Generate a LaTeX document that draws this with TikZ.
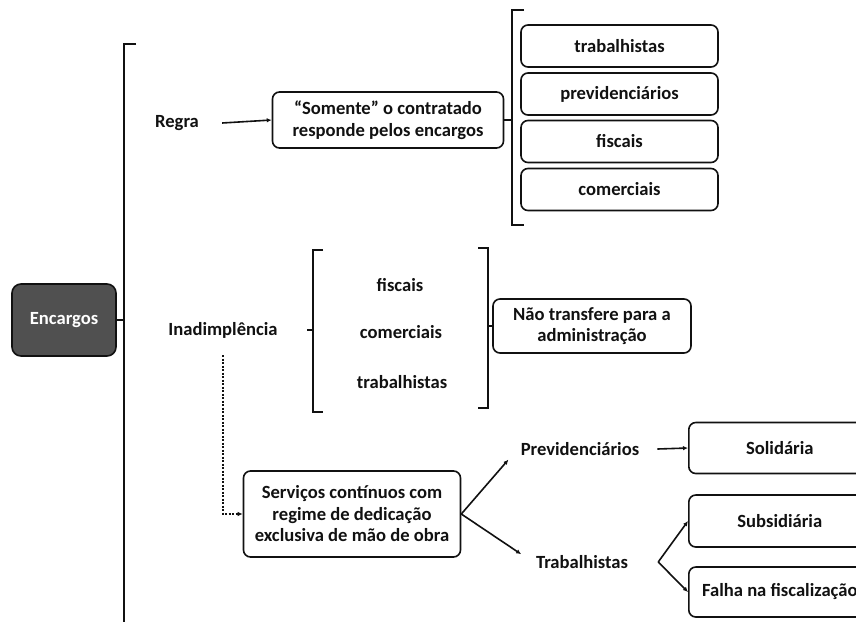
\documentclass[tikz,border=0pt]{standalone}
\usepackage{fontspec}
\setmainfont{Carlito}
\usepackage{xcolor}
\usepackage{tikz}
\usetikzlibrary{arrows.meta,positioning,calc}
\definecolor{inkblack}{HTML}{111111}
\definecolor{encgray}{HTML}{505050}
\tikzset{
  txt/.style={font=\bfseries\fontsize{18.6}{21.5}\selectfont, align=center, inner sep=3pt, text=inkblack},
  block/.style={txt, draw=inkblack, line width=1.6pt, rounded corners=7pt},
  itembox/.style={block, minimum width=197pt, minimum height=42pt},
  endbox/.style={block, anchor=west, minimum width=182pt},
  rootbox/.style={txt, draw=inkblack, line width=1.6pt, rounded corners=9pt, fill=encgray, text=white, minimum width=104pt, minimum height=72pt},
  brace/.style={draw=inkblack, line width=2.2pt},
  arrow/.style={-{Latex[length=5pt,width=4.5pt]}, line width=1.6pt, draw=inkblack},
  dashedarrow/.style={-{Latex[length=5pt,width=4.5pt]}, line width=1.4pt, dash pattern=on 2pt off 1.5pt, draw=inkblack}
}
\begin{document}
\begin{tikzpicture}[x=1pt,y=-1pt]
  \useasboundingbox[fill=white] (0,0) rectangle (856,625);

  % root and main bracket
  \node[rootbox] (enc) at (64,320) {Encargos};
  \coordinate (maintop) at (124,44);
  \coordinate (mainbot) at (124,622);
  \draw[brace] ([xshift=12pt]maintop) -- (maintop) -- (mainbot);
  \draw[brace] (enc.east) -- (enc.east -| maintop);

  % regra
  \node[txt] (regra) at (177,123) {Regra};
  \node[block, minimum width=231pt, minimum height=56pt] (somente) at (388,120) {“Somente” o contratado\\responde pelos encargos};
  \draw[arrow] ([xshift=20pt]regra.east) -- (somente.west);

  \coordinate (rtop) at (512,10);
  \coordinate (rbot) at (512,225);
  \draw[brace] ([xshift=12pt]rtop) -- (rtop) -- (rbot) -- ([xshift=12pt]rbot);
  \draw[brace] (somente.east) -- (somente.east -| rtop);

  \node[itembox] (trab1) at (619.5,46) {trabalhistas};
  \node[itembox] (prev1) at (619.5,94) {previdenciários};
  \node[itembox] (fisc1) at (619.5,141.5) {fiscais};
  \node[itembox] (come1) at (619.5,189.5) {comerciais};

  % inadimplencia
  \node[txt] (inad) at (223,330) {Inadimplência};
  \coordinate (ltop) at (313,250);
  \coordinate (lbot) at (313,412);
  \draw[brace] ([xshift=10pt]ltop) -- (ltop) -- (lbot) -- ([xshift=10pt]lbot);
  \draw[brace] (307,330) -- (313,330);

  \node[txt] (fisc2) at (400,285) {fiscais};
  \node[txt] (come2) at (401,332) {comerciais};
  \node[txt] (trab2) at (402,382) {trabalhistas};

  \coordinate (qtop) at (488,248);
  \coordinate (qbot) at (488,408);
  \draw[brace] ([xshift=-10pt]qtop) -- (qtop) -- (qbot) -- ([xshift=-10pt]qbot);

  \node[block, minimum width=198pt, minimum height=54pt] (naotr) at (592,326) {Não transfere para a\\administração};
  \draw[brace] (naotr.west -| qtop) -- (naotr.west);

  % dedicacao exclusiva
  \node[block, minimum width=217pt, minimum height=86pt] (serv) at (352,514) {Serviços contínuos com\\regime de dedicação\\exclusiva de mão de obra};
  \draw[dashedarrow] ([yshift=-14pt]inad.south) |- (serv.west);

  \node[txt] (prev2) at (580,449) {Previdenciários};
  \node[txt] (trab3) at (582,562) {Trabalhistas};
  \draw[arrow, shorten >=14pt] (serv.east) -- (prev2.west);
  \draw[arrow, shorten >=14pt] (serv.east) -- (trab3.west);

  \node[endbox, minimum height=51pt] (soli) at (688,448) {Solidária};
  \node[endbox, minimum height=52pt] (subs) at (688,521) {Subsidiária};
  \node[endbox, minimum height=50pt] (falha) at (688,592) {Falha na fiscalização};

  \draw[arrow] ([xshift=15pt]prev2.east) -- (soli.west);
  \coordinate (fork) at ([xshift=27pt]trab3.east);
  \draw[arrow] (fork) -- (subs.west);
  \draw[arrow] (fork) -- (falha.west);
\end{tikzpicture}
\end{document}
